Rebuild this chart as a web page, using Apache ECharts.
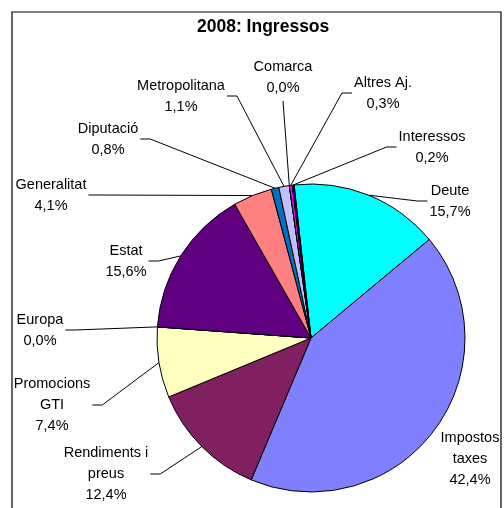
<!DOCTYPE html>
<html>
<head>
<meta charset="UTF-8">
<title>2008: Ingressos</title>
<script src="https://cdn.jsdelivr.net/npm/echarts@6/dist/echarts.min.js"></script>
<style>
	body { margin: 0; background: #fff; }
	#chart { width: 504px; height: 508px; }
</style>
</head>
<body>
	<div id="chart"></div>
	<script>
	// dades
	var categories = ['Deute', 'Impostos\ntaxes', 'Rendiments i\npreus', 'Promocions\nGTI', 'Europa', 'Estat',
		'Generalitat', 'Diputació', 'Metropolitana', 'Comarca', 'Altres Aj.', 'Interessos'];
	var values = [15.7, 42.4, 12.4, 7.4, 0.0, 15.6, 4.1, 0.8, 1.1, 0.0, 0.3, 0.2];
	var colors = ['#00ffff', '#8080ff', '#802060', '#ffffc0', '#ffffff', '#600080',
		'#ff8080', '#0070c0', '#c0c0ff', '#ffffff', '#ff00ff', '#000080'];

	// posicio del centre de cada etiqueta
	var labelPos = {
		'Deute': [450, 201],
		'Impostos\ntaxes': [470, 459],
		'Rendiments i\npreus': [106, 474],
		'Promocions\nGTI': [52, 405],
		'Europa': [40, 330],
		'Estat': [126, 261],
		'Generalitat': [51, 195],
		'Diputació': [108, 139],
		'Metropolitana': [181, 96],
		'Comarca': [283, 77],
		'Altres Aj.': [383, 93],
		'Interessos': [432, 147]
	};

	var FONT = 'Liberation Sans, Arial, sans-serif';
	var FS = 14.5;
	var ctx = document.createElement('canvas').getContext('2d');
	ctx.font = FS + 'px ' + FONT;
	function textWidth(t) {
		var w = 0;
		String(t).split('\n').forEach(function (s) { w = Math.max(w, ctx.measureText(s).width); });
		return w;
	}

	function fmt(v) {
		return v.toFixed(1).replace('.', ',') + '%';
	}

	// linia guia a l'estil Excel: tram horitzontal curt i despres cap al sector
	function placeLabel(params) {
		var name = categories[params.dataIndex];
		var pos = labelPos[name];
		var out = { x: pos[0], y: pos[1], align: 'center', verticalAlign: 'middle' };
		var p0 = params.labelLinePoints && params.labelLinePoints[0];
		if (p0) {
			var w = textWidth(params.text);
			var h = params.labelRect.height;
			var l = pos[0] - w / 2, r = pos[0] + w / 2;
			var pts;
			if (p0[0] > r + 10) {
				pts = [p0, [r + 12, pos[1]], [r + 2, pos[1]]];
			} else if (p0[0] < l - 10) {
				pts = [p0, [l - 12, pos[1]], [l - 2, pos[1]]];
			} else {
				pts = [p0, [pos[0], pos[1] + h / 2 + 3], [pos[0], pos[1] + h / 2 + 3]];
			}
			out.labelLinePoints = pts;
		}
		return out;
	}

	var pieData = [];
	for (var i = 0; i < categories.length; i++) {
		var item = { name: categories[i], value: values[i], itemStyle: { color: colors[i] } };
		if (categories[i] === 'Impostos\ntaxes') item.labelLine = { show: false };
		pieData.push(item);
	}

	var chart = echarts.init(document.getElementById('chart'));
	var option = {
		animation: false,
		backgroundColor: '#fff',
		title: {
			text: '2008: Ingressos',
			left: 197,
			top: 18,
			padding: 0,
			textStyle: { fontFamily: FONT, fontSize: 17.5, fontWeight: 'bold', color: '#000' }
		},
		graphic: [{
			type: 'rect',
			shape: { x: 12, y: 12, width: 489, height: 520 },
			style: { fill: 'none', stroke: '#000', lineWidth: 1.2 }
		}],
		series: [{
			type: 'pie',
			center: [311, 338],
			radius: 154,
			startAngle: 96.3,
			clockwise: true,
			avoidLabelOverlap: false,
			emphasis: { disabled: true },
			itemStyle: { borderColor: '#000', borderWidth: 1 },
			label: {
				show: true,
				color: '#000',
				fontFamily: FONT,
				fontSize: FS,
				lineHeight: 21,
				width: 130,
				formatter: function (p) { return p.name + '\n' + fmt(p.value); }
			},
			labelLine: {
				show: true,
				length: 10,
				length2: 10,
				lineStyle: { color: '#000', width: 1 }
			},
			labelLayout: placeLabel,
			data: pieData
		}]
	};
	chart.setOption(option);
	</script>
</body>
</html>
